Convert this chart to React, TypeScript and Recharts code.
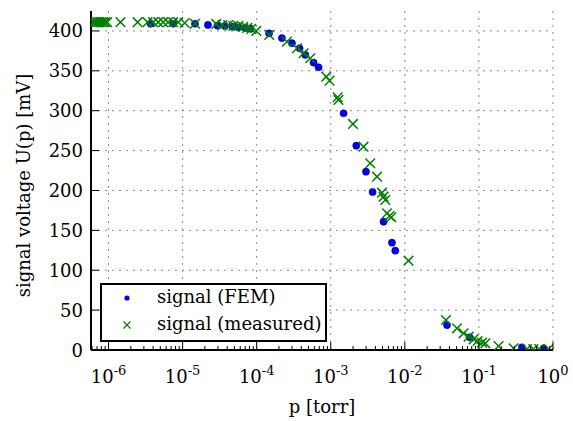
import React from "react";
import { CartesianGrid, Legend, Scatter, ScatterChart, XAxis, YAxis } from "recharts";

const FONT = "'DejaVu Serif', serif";
const FS = 18;

// FEM simulation: pressure [torr] and signal [mV]
const FEM_P = [
  7.3e-7, 3.7e-6, 7.5e-6, 1.47e-5, 2.2e-5, 2.96e-5, 3.73e-5, 4.7e-5, 5.6e-5, 7.0e-5, 8.2e-5,
  1.47e-4, 2.19e-4, 2.99e-4, 3.79e-4, 4.53e-4, 5.86e-4, 6.85e-4, 1.49e-3, 2.21e-3, 2.99e-3,
  3.67e-3, 5.16e-3, 6.7e-3, 7.43e-3, 0.0371, 0.0748, 0.381, 0.746,
];
const FEM_U = [
  410, 409, 409, 409, 407.5, 406.6, 406.3, 405.4, 404.6, 403.8, 402.9,
  397, 391, 384.6, 378.3, 370, 360.3, 354.5, 296.8, 256.2, 223.6,
  198.1, 160.9, 134.5, 124.5, 31.3, 15.9, 3.4, 2.1,
];

// measured signal
const MEAS_P = [
  6.24e-7, 6.6e-7, 7.03e-7, 7.48e-7, 7.96e-7, 8.47e-7, 9.0e-7, 9.6e-7,
  1.45e-6, 2.47e-6, 3.36e-6, 4.0e-6, 4.68e-6, 5.47e-6, 6.38e-6, 7.46e-6, 8.73e-6, 1.07e-5,
  1.47e-5, 2.84e-5, 3.43e-5, 4.13e-5, 4.83e-5, 5.64e-5, 6.59e-5, 7.46e-5, 8.45e-5, 9.86e-5,
  1.48e-4, 2.56e-4, 3.5e-4, 4.3e-4, 5.29e-4, 8.69e-4, 9.63e-4, 1.24e-3, 1.27e-3,
  1.995e-3, 2.77e-3, 3.41e-3, 4.21e-3, 4.91e-3, 5.16e-3, 5.45e-3, 5.74e-3, 6.22e-3, 6.56e-3,
  0.0112, 0.0359, 0.0506, 0.0621, 0.0725, 0.0847, 0.0959, 0.11, 0.122, 0.184, 0.294,
  0.446, 0.542, 0.653, 0.871,
];
const MEAS_U = [
  411, 411, 411, 411, 411, 411, 411, 411,
  411, 411, 411, 411, 411, 411, 411, 411, 411, 410,
  409, 408.8, 407.5, 407.5, 406.3, 406.3, 405, 403.8, 402.5, 400,
  395, 386.6, 378.3, 372, 365.8, 342.7, 337.7, 316.9, 313.5,
  283.4, 254.9, 234.1, 217.3, 197.2, 192.2, 188.1, 171.4, 168, 166.4,
  112, 37.6, 27.2, 20.9, 16.7, 13.4, 11.3, 9.2, 8.4, 5, 2.1,
  1.3, 1.3, 1.3, 1.3,
];

const X_DOMAIN = [5.8e-7, 1];
const X_MAJOR = [1e-6, 1e-5, 1e-4, 1e-3, 1e-2, 1e-1, 1];
const Y_TICKS = [0, 50, 100, 150, 200, 250, 300, 350, 400];
const Y_DOMAIN = [0, 425];

const SERIES_FEM = "signal (FEM)";
const SERIES_MEAS = "signal (measured)";

// minor log ticks 2..9 in every decade inside the domain
const X_MINOR: number[] = [];
for (let e = -7; e < 0; e++) {
  for (let m = 2; m <= 9; m++) {
    const v = m * Math.pow(10, e);
    if (v >= X_DOMAIN[0] && v <= X_DOMAIN[1]) X_MINOR.push(v);
  }
}
const X_ALL = [...X_MAJOR, ...X_MINOR].sort((a, b) => a - b);

const femData = FEM_P.map((p, i) => ({ p, u: FEM_U[i] }));
const measData = MEAS_P.map((p, i) => ({ p, u: MEAS_U[i] }));

const isMajor = (v: number) => X_MAJOR.some((m) => Math.abs(m - v) / m < 1e-9);

function BottomTick(props: any) {
  const { x, y, payload } = props;
  const major = isMajor(payload.value);
  const exp = Math.round(Math.log10(payload.value));
  return (
    <g>
      <line x1={x} x2={x} y1={y} y2={y - (major ? 8 : 4)} stroke="#000" strokeWidth={1} />
      {major && (
        <text x={x} y={y + 33} textAnchor="middle" fontFamily={FONT} fontSize={FS} fill="#000">
          <tspan>10</tspan>
          <tspan dy={-8} fontSize={13}>{exp}</tspan>
        </text>
      )}
    </g>
  );
}

function TopTick(props: any) {
  const { x, y, payload } = props;
  const major = isMajor(payload.value);
  return <line x1={x} x2={x} y1={y} y2={y + (major ? 8 : 4)} stroke="#000" strokeWidth={1} />;
}

function LeftTick(props: any) {
  const { x, y, payload } = props;
  return (
    <g>
      <line x1={x} x2={x + 8} y1={y} y2={y} stroke="#000" strokeWidth={1} />
      <text x={x - 8} y={y} dy={6.5} textAnchor="end" fontFamily={FONT} fontSize={FS} fill="#000">
        {payload.value}
      </text>
    </g>
  );
}

function RightTick(props: any) {
  const { x, y } = props;
  return <line x1={x} x2={x - 8} y1={y} y2={y} stroke="#000" strokeWidth={1} />;
}

function Dot(props: any) {
  const { cx, cy } = props;
  if (cx == null || cy == null) return null;
  return <circle cx={cx} cy={cy} r={3.6} fill="#0000ff" stroke="#000044" strokeWidth={0.5} />;
}

function Cross(props: any) {
  const { cx, cy } = props;
  if (cx == null || cy == null) return null;
  const s = 4.8;
  return (
    <path
      d={`M${cx - s},${cy - s}L${cx + s},${cy + s}M${cx - s},${cy + s}L${cx + s},${cy - s}`}
      stroke="#008000"
      strokeWidth={1.5}
      fill="none"
    />
  );
}

function LegendBox() {
  return (
    <div
      style={{
        width: 227,
        height: 59,
        boxSizing: "border-box",
        border: "2px solid #000",
        background: "#fff",
        position: "relative",
        fontFamily: FONT,
        fontSize: FS,
        color: "#000",
      }}
    >
      <svg width={40} height={55} style={{ position: "absolute", left: 4, top: 0 }}>
        <circle cx={21} cy={13} r={2.6} fill="#0000ff" />
        <path d="M17.5,36.5L24.5,43.5M17.5,43.5L24.5,36.5" stroke="#008000" strokeWidth={1.2} />
      </svg>
      <div style={{ position: "absolute", left: 55, top: 1, whiteSpace: "nowrap" }}>{SERIES_FEM}</div>
      <div style={{ position: "absolute", left: 55, top: 28, whiteSpace: "nowrap" }}>{SERIES_MEAS}</div>
    </div>
  );
}

export default function App() {
  return (
    <div style={{ position: "absolute", left: 0, top: 0, width: 573, height: 421, background: "#fff" }}>
      <ScatterChart
        width={573}
        height={421}
        margin={{ top: 11, right: 20, bottom: 0, left: 0 }}
        style={{ fontFamily: FONT }}
      >
        <CartesianGrid
          verticalValues={X_MAJOR}
          horizontalValues={Y_TICKS}
          stroke="#8a8a8a"
          strokeDasharray="2 5"
        />
        <XAxis
          dataKey="p"
          type="number"
          scale="log"
          domain={X_DOMAIN}
          allowDataOverflow
          ticks={X_ALL}
          interval={0}
          height={71}
          tickSize={0}
          tickMargin={0}
          tickLine={false}
          axisLine={{ stroke: "#000", strokeWidth: 2 }}
          tick={(p: any) => <BottomTick {...p} />}
          label={{
            value: "p [torr]",
            position: "insideBottom",
            offset: 8,
            fontSize: FS,
            fontFamily: FONT,
            fill: "#000",
          }}
        />
        <XAxis
          xAxisId="top"
          orientation="top"
          type="number"
          scale="log"
          domain={X_DOMAIN}
          allowDataOverflow
          ticks={X_ALL}
          interval={0}
          height={0}
          tickSize={0}
          tickMargin={0}
          tickLine={false}
          axisLine={{ stroke: "#000", strokeWidth: 2 }}
          tick={(p: any) => <TopTick {...p} />}
        />
        <YAxis
          dataKey="u"
          type="number"
          domain={Y_DOMAIN}
          allowDataOverflow
          ticks={Y_TICKS}
          interval={0}
          width={91}
          tickSize={0}
          tickMargin={0}
          tickLine={false}
          axisLine={{ stroke: "#000", strokeWidth: 2 }}
          tick={(p: any) => <LeftTick {...p} />}
          label={{
            content: (lp: any) => {
              const vb = lp.viewBox;
              const cy = vb.y + vb.height / 2 + 5;
              return (
                <text
                  x={30}
                  y={cy}
                  transform={`rotate(-90, 30, ${cy})`}
                  textAnchor="middle"
                  fontFamily={FONT}
                  fontSize={FS}
                  fill="#000"
                >
                  signal voltage U(p) [mV]
                </text>
              );
            },
          }}
        />
        <YAxis
          yAxisId="right"
          orientation="right"
          type="number"
          domain={Y_DOMAIN}
          allowDataOverflow
          ticks={Y_TICKS}
          interval={0}
          width={0}
          tickSize={0}
          tickMargin={0}
          tickLine={false}
          axisLine={{ stroke: "#000", strokeWidth: 2 }}
          tick={(p: any) => <RightTick {...p} />}
        />
        <Legend
          layout="horizontal"
          verticalAlign="middle"
          align="center"
          content={() => <LegendBox />}
          wrapperStyle={{ left: 100, top: 283, width: 227, height: 59 }}
        />
        <Scatter name={SERIES_FEM} data={femData} shape={(p: any) => <Dot {...p} />} isAnimationActive={false} />
        <Scatter name={SERIES_MEAS} data={measData} shape={(p: any) => <Cross {...p} />} isAnimationActive={false} />
      </ScatterChart>
    </div>
  );
}
